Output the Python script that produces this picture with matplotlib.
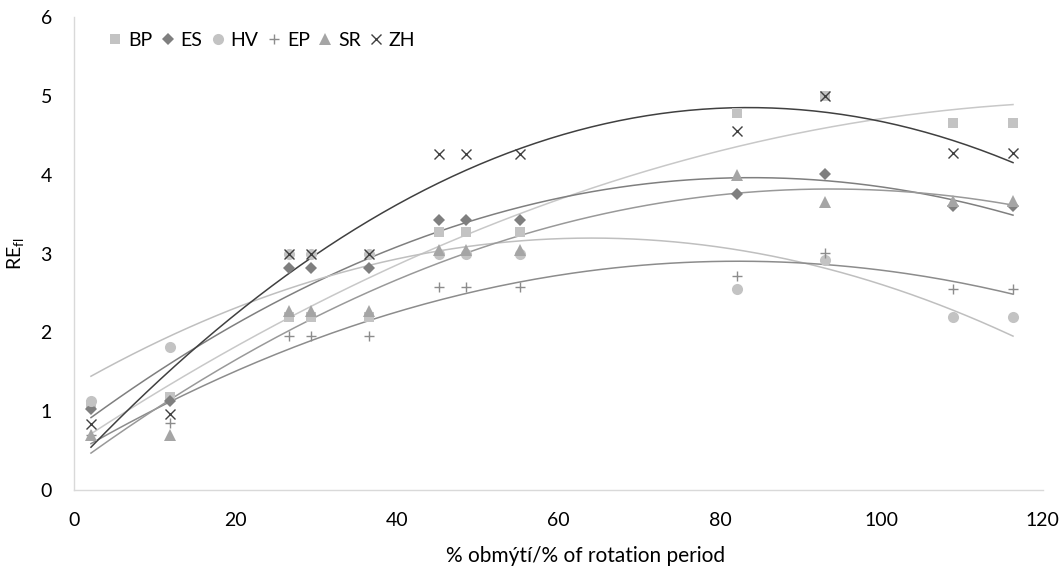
import matplotlib.pyplot as plt
import numpy as np

plt.rcParams['font.family'] = ['Lato', 'DejaVu Sans']

# % obmýtí / % of rotation period
x_vals = [2.1, 11.9, 26.6, 29.3, 36.5, 45.2, 48.6, 55.2, 82.1, 93.0, 108.9, 116.3]

names = ["BP", "ES", "HV", "EP", "SR", "ZH"]
bp = [1.08, 1.18, 2.2, 2.2, 2.2, 3.27, 3.27, 3.27, 4.78, 5.0, 4.65, 4.65]
es = [1.03, 1.13, 2.82, 2.82, 2.82, 3.42, 3.42, 3.42, 3.76, 4.01, 3.6, 3.6]
hv = [1.13, 1.82, 3.0, 3.0, 3.0, 3.0, 3.0, 3.0, 2.55, 2.92, 2.2, 2.2]
ep = [0.7, 0.85, 1.96, 1.96, 1.96, 2.57, 2.57, 2.57, 2.72, 3.01, 2.55, 2.55]
sr = [0.7, 0.7, 2.27, 2.27, 2.27, 3.05, 3.05, 3.05, 4.0, 3.65, 3.67, 3.67]
zh = [0.84, 0.97, 3.0, 3.0, 3.0, 4.26, 4.26, 4.26, 4.55, 5.0, 4.27, 4.27]
series = [bp, es, hv, ep, sr, zh]

# styl bodů a trendových čar
markers = ['s', 'D', 'o', '+', '^', 'x']
msizes = [7, 6, 8, 7, 8, 7]
mcols = ['#c3c3c3', '#7f7f7f', '#c3c3c3', '#8c8c8c', '#a5a5a5', '#404040']
lcols = ['#c8c8c8', '#7f7f7f', '#bfbfbf', '#8c8c8c', '#999999', '#404040']

fig = plt.figure(figsize=(10.62, 5.70), dpi=100)
ax = fig.add_axes([0.0697, 0.1404, 0.9123, 0.8296])

x = np.array(x_vals)
xx = np.linspace(x.min(), x.max(), 200)
for i in range(len(series)):
    y = np.array(series[i])
    # polynomický trend 2. řádu
    coef = np.polyfit(x, y, 2)
    ax.plot(xx, np.polyval(coef, xx), color=lcols[i], lw=1.1, zorder=2)
for i in range(len(series)):
    y = np.array(series[i])
    if markers[i] in ['+', 'x']:
        ax.plot(x, y, linestyle='none', marker=markers[i], ms=msizes[i], mew=1.0,
                color=mcols[i], label=names[i], zorder=3)
    else:
        ax.plot(x, y, linestyle='none', marker=markers[i], ms=msizes[i], mew=0,
                color=mcols[i], label=names[i], zorder=3)

ax.set_xlim(0, 120)
ax.set_ylim(0, 6)
ax.set_xticks(np.arange(0, 121, 20))
ax.set_yticks(np.arange(0, 7, 1))
for s in ['top', 'right']:
    ax.spines[s].set_visible(False)
for s in ['left', 'bottom']:
    ax.spines[s].set_color('#d9d9d9')
    ax.spines[s].set_linewidth(1.0)
ax.tick_params(length=0, labelsize=14, colors='#000000')
ax.tick_params(axis='x', pad=16)
ax.tick_params(axis='y', pad=16)
ax.set_xlabel('% obmýtí/% of rotation period', fontsize=15)
ax.xaxis.set_label_coords(0.528, -0.118)
ax.set_ylabel('RE$_{\\mathregular{fl}}$', fontsize=14, labelpad=10)

fig.legend(loc='center left', bbox_to_anchor=(0.095, 0.929), ncol=6, frameon=False,
           fontsize=14, handlelength=0.7, handletextpad=0.3, columnspacing=0.45,
           borderaxespad=0.0)

fig.savefig('out.png', dpi=100)
